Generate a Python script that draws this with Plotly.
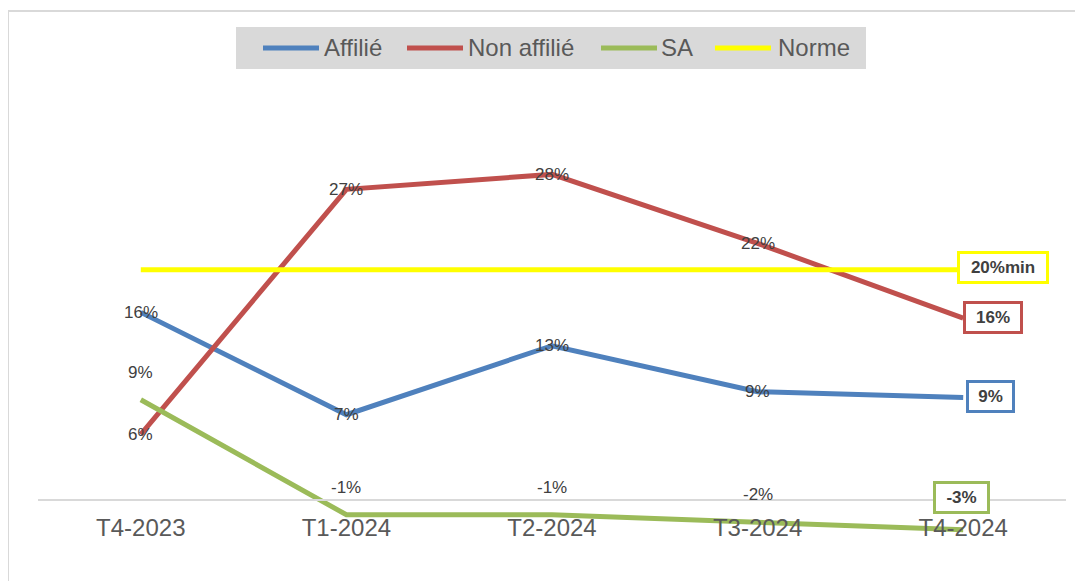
import plotly.graph_objects as go

categories = ["T4-2023", "T1-2024", "T2-2024", "T3-2024", "T4-2024"]
affilie = [16.3, 7.4, 13.4, 9.4, 8.9]
non_affilie = [5.7, 27.0, 28.3, 22.3, 15.8]
sa = [8.7, -1.3, -1.3, -1.9, -2.6]
norme = [20, 20, 20, 20, 20]

series = [
    ("Affilié", affilie, "#4f81bd"),
    ("Non affilié", non_affilie, "#c0504d"),
    ("SA", sa, "#9bbb59"),
    ("Norme", norme, "#ffff00"),
]

FONT = "Liberation Sans, Arial, sans-serif"
OFF = 8  # page body margin
W, H = 1083 - OFF, 581 - OFF
ML, MR, MT, MB = 38 - OFF, 17, 64 - OFF, 13
PW, PH = W - ML - MR, H - MT - MB


def px2x(sx):
    return (sx - OFF - ML) / PW


def px2y(sy):
    return (H - MB - (sy - OFF)) / PH


fig = go.Figure()
for name, vals, color in series:
    fig.add_trace(go.Scatter(
        x=categories, y=vals, name=name, mode="lines",
        line=dict(color=color, width=5), showlegend=False,
    ))

annotations = []
# plain data labels (all but last point)
for name, vals, shift in [("Affilié", affilie, 0), ("Non affilié", non_affilie, 0), ("SA", sa, 27)]:
    for c, v in zip(categories[:-1], vals[:-1]):
        annotations.append(dict(
            x=c, y=v, xref="x", yref="y", text=f"{round(v):.0f}%",
            showarrow=False, yshift=shift,
            font=dict(family=FONT, size=17, color="#404040"),
        ))

# boxed end labels
last = categories[-1]
boxed = [
    (norme[-1], f"{round(norme[-1])}%min", "#ffff00", "left", -6, 2, 78),
    (non_affilie[-1], f"{round(non_affilie[-1])}%", "#c0504d", "left", 0, 1, 46),
    (affilie[-1], f"{round(affilie[-1])}%", "#4f81bd", "left", 3, 1, 35),
    (sa[-1], f"{round(sa[-1])}%", "#9bbb59", "center", -2, 32, 43),
]
for v, txt, col, xa, xs, ys, w in boxed:
    annotations.append(dict(
        x=last, y=v, xref="x", yref="y", text=f"<b>{txt}</b>",
        showarrow=False, xanchor=xa, xshift=xs, yshift=ys,
        bgcolor="white", bordercolor=col, borderwidth=3, borderpad=4,
        width=w, align="center",
        font=dict(family=FONT, size=17, color="#404040"),
    ))

shapes = [dict(
    type="rect", xref="paper", yref="paper",
    x0=px2x(8), x1=px2x(1100), y0=px2y(600), y1=px2y(11),
    line=dict(color="#d9d9d9", width=2), fillcolor="rgba(0,0,0,0)",
    layer="below",
)]

# custom legend (Excel-style long line keys)
shapes.append(dict(
    type="rect", xref="paper", yref="paper",
    x0=px2x(236), x1=px2x(866), y0=px2y(69), y1=px2y(27),
    line=dict(width=0), fillcolor="#d9d9d9", layer="below",
))
legend_items = [(263, 322), (407, 466), (601, 659), (715, 776)]
ly = px2y(48)
for (name, _, color), (lx, tx) in zip(series, legend_items):
    shapes.append(dict(
        type="line", xref="paper", yref="paper",
        x0=px2x(lx), x1=px2x(lx + 56), y0=ly, y1=ly,
        line=dict(color=color, width=5),
    ))
    annotations.append(dict(
        x=px2x(tx), y=ly, xref="paper", yref="paper", text=name,
        showarrow=False, xanchor="left", yanchor="middle",
        font=dict(family=FONT, size=24, color="#595959"),
    ))

fig.update_layout(
    width=W, height=H,
    margin=dict(l=ML, r=MR, t=MT, b=MB, autoexpand=False),
    paper_bgcolor="white", plot_bgcolor="white",
    showlegend=False,
    annotations=annotations,
    shapes=shapes,
)
fig.update_xaxes(
    type="category", range=[-0.5, 4.5], anchor="free", position=px2y(500),
    showline=True, linecolor="#d9d9d9", linewidth=2, showgrid=False,
    ticks="", ticklabelstandoff=6,
    tickfont=dict(family=FONT, size=24, color="#595959"),
)
fig.update_yaxes(
    range=[-5.93, 37.9], showgrid=False, zeroline=False,
    showticklabels=False, showline=False,
)
fig.write_html("out.html")
